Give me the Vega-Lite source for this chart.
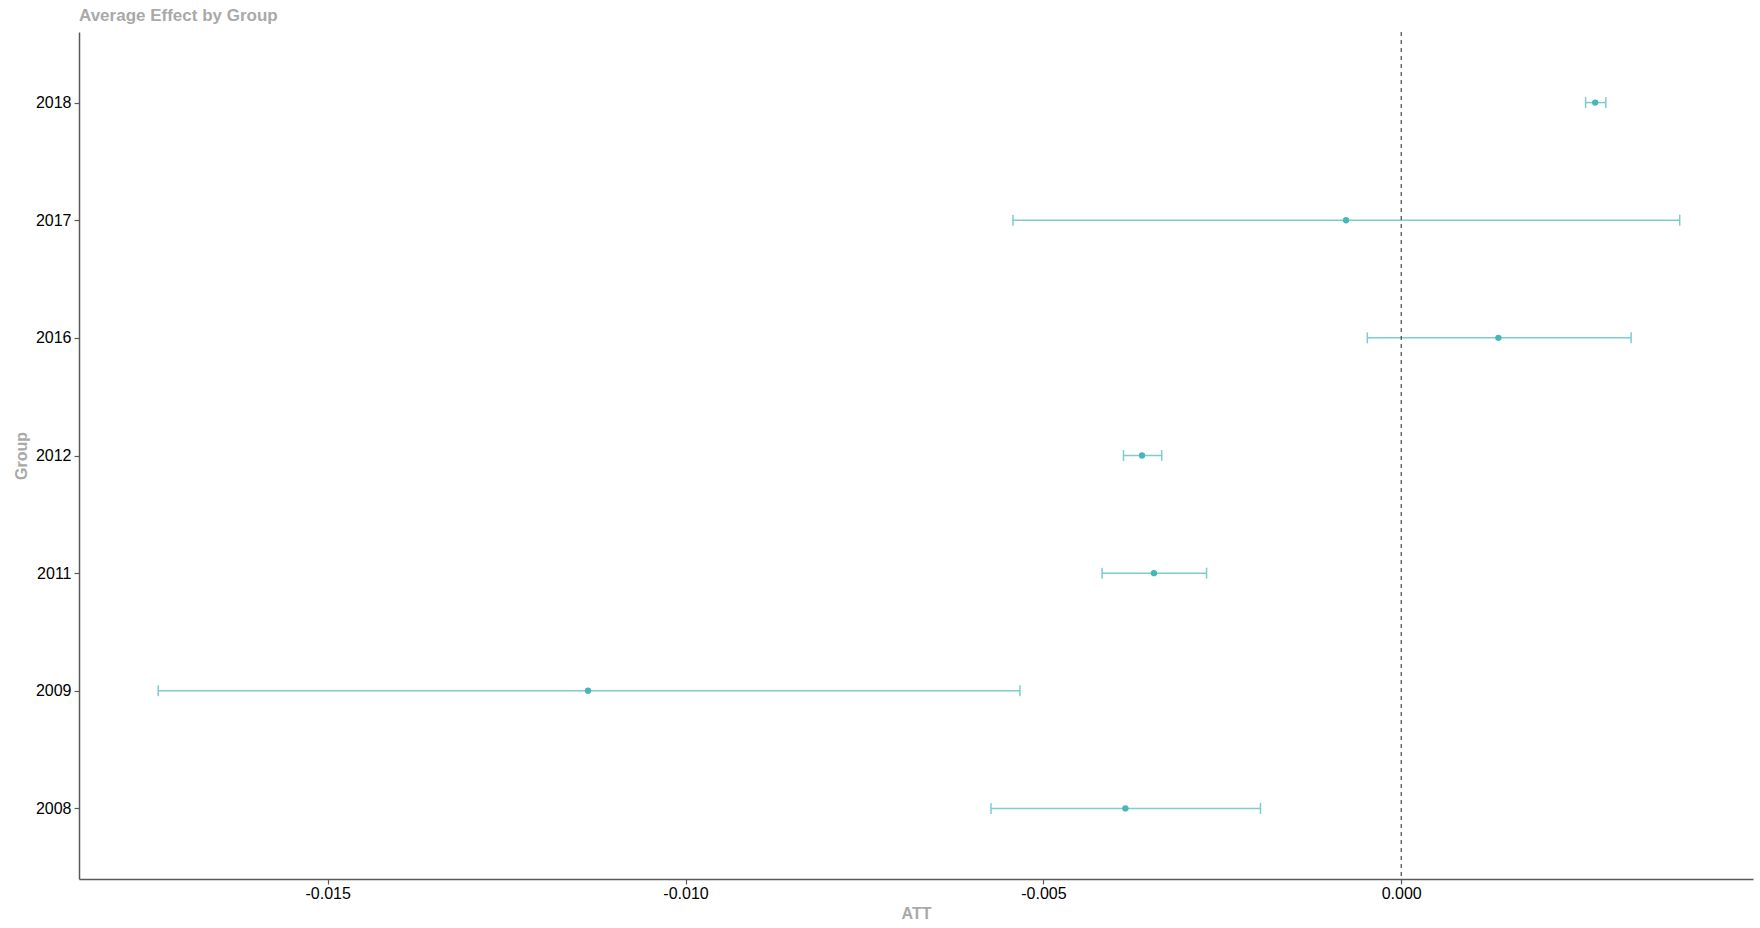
{
  "$schema": "https://vega.github.io/schema/vega-lite/v6.json",
  "autosize": "none",
  "width": 1674,
  "height": 847,
  "padding": {"left": 79, "top": 32, "right": 7, "bottom": 49},
  "background": "white",
  "config": {
    "view": {"stroke": null},
    "font": "Liberation Sans",
    "axis": {"grid": false, "domainColor": "#5a5a5a", "domainWidth": 1.5, "tickColor": "#5a5a5a", "tickWidth": 1.2, "tickSize": 5, "labelColor": "#000000", "labelFont": "Liberation Sans", "labelFontSize": 16, "titleFont": "Liberation Sans", "titleFontSize": 16, "titleFontWeight": "bold", "titleColor": "#a9a9a9"}
  },
  "title": {"text": "Average Effect by Group", "anchor": "start", "frame": "group", "fontSize": 17, "fontWeight": "bold", "color": "#a9a9a9", "font": "Liberation Sans", "offset": 6},
  "data": {"values": [
    {"group": "2018", "att": 0.00271, "lo": 0.002576, "hi": 0.002859},
    {"group": "2017", "att": -0.000771, "lo": -0.005425, "hi": 0.003891},
    {"group": "2016", "att": 0.001357, "lo": -0.000474, "hi": 0.003212},
    {"group": "2012", "att": -0.003622, "lo": -0.003881, "hi": -0.003347},
    {"group": "2011", "att": -0.003455, "lo": -0.00418, "hi": -0.00272},
    {"group": "2009", "att": -0.011363, "lo": -0.017368, "hi": -0.005328},
    {"group": "2008", "att": -0.003854, "lo": -0.005732, "hi": -0.001967}
  ]},
  "encoding": {
    "y": {"field": "group", "type": "ordinal", "sort": "descending", "scale": {"type": "point", "padding": 0.6}, "axis": {"title": "Group", "labelPadding": 3, "titlePadding": 6}}
  },
  "layer": [
    {
      "mark": {"type": "rule", "color": "#7dcccf", "strokeWidth": 1.5},
      "encoding": {
        "x": {"field": "lo", "type": "quantitative", "scale": {"domain": [-0.018475, 0.004915], "nice": false, "zero": false}, "axis": {"title": "ATT", "values": [-0.015, -0.01, -0.005, 0], "format": ".3f", "labelExpr": "replace(datum.label, '\u2212', '-')", "labelPadding": 1, "titlePadding": 4}},
        "x2": {"field": "hi"}
      }
    },
    {
      "mark": {"type": "tick", "color": "#7dcccf", "thickness": 1.5, "size": 11, "opacity": 1},
      "encoding": {"x": {"field": "lo", "type": "quantitative"}}
    },
    {
      "mark": {"type": "tick", "color": "#7dcccf", "thickness": 1.5, "size": 11, "opacity": 1},
      "encoding": {"x": {"field": "hi", "type": "quantitative"}}
    },
    {
      "mark": {"type": "point", "filled": true, "color": "#45b7bb", "size": 40, "opacity": 1},
      "encoding": {"x": {"field": "att", "type": "quantitative"}}
    },
    {
      "data": {"values": [{"zero": 0}]},
      "mark": {"type": "rule", "color": "#555555", "strokeWidth": 1.3, "strokeDash": [4, 4]},
      "encoding": {"x": {"field": "zero", "type": "quantitative"}, "y": null}
    }
  ]
}
